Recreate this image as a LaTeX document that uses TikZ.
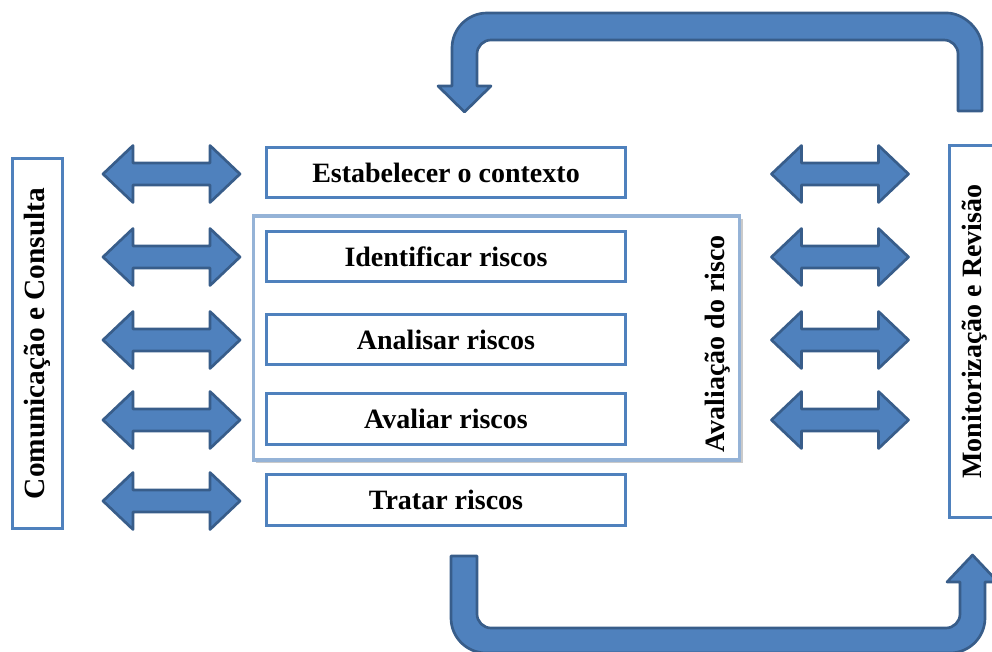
\documentclass[tikz,border=0pt]{standalone}
\usepackage{fontspec}
\setmainfont{Liberation Serif}
\usetikzlibrary{shadows}
\definecolor{boxblue}{HTML}{4F81BD}
\definecolor{arrline}{HTML}{385D8A}
\definecolor{lightblue}{HTML}{95B3D7}
\tikzset{
  stagebox/.style={draw=boxblue, line width=2.2pt, fill=white, minimum width=269pt, minimum height=38pt, inner sep=0pt, font=\fontsize{21}{25}\selectfont\bfseries},
  sidebox/.style={draw=boxblue, line width=2.2pt, fill=white, minimum width=37pt, minimum height=278pt, inner sep=0pt},
  sidetext/.style={rotate=90, font=\fontsize{21}{25}\selectfont\bfseries, inner sep=0pt},
  groupbox/.style={draw=lightblue, line width=2.4pt, fill=white, minimum width=365pt, minimum height=183pt, inner sep=0pt,
     drop shadow={shadow xshift=2pt, shadow yshift=-2pt, opacity=0.35, fill=black!60}},
  bigarrow/.style={fill=boxblue, draw=arrline, line width=2pt, line join=round},
  pics/dblarr/.style={code={
    \draw[bigarrow] (-68.5,0) -- (-38.5,-28.5) -- (-38.5,-11) -- (38.5,-11) -- (38.5,-28.5)
       -- (68.5,0) -- (38.5,28.5) -- (38.5,11) -- (-38.5,11) -- (-38.5,28.5) -- cycle;}}
}
\begin{document}
\begin{tikzpicture}[x=0.75pt, y=-0.75pt]
\useasboundingbox (0,0) rectangle (992,652);

% group box
\node[groupbox] (grp) at (496.5,338) {};
\node[sidetext] (grplabel) at (718,344) {Avaliação do risco};

% stage boxes
\node[stagebox] (ctx) at (446,172.5) {Estabelecer o contexto};
\node[stagebox] (ident) at (446,256.5) {Identificar riscos};
\node[stagebox] (anal) at (446,339.5) {Analisar riscos};
\node[stagebox] (aval) at (446,419) {Avaliar riscos};
\node[stagebox] (trat) at (446,500) {Tratar riscos};

% side boxes
\node[sidebox] (com) at (37.5,343.5) {};
\node[sidetext, font=\fontsize{22}{26}\selectfont\bfseries] (comlabel) at (37.5,343.5) {Comunicação e Consulta};
\node[sidebox, minimum height=279pt] (mon) at (974.5,331.5) {};
\node[sidetext] (monlabel) at (974.5,331.5) {Monitorização e Revisão};

% double arrows left
\foreach \yy in {174,257,340,420,501} \pic at (171.5,\yy) {dblarr};
% double arrows right
\foreach \yy in {174,257,340,420} \pic at (840,\yy) {dblarr};

% top U arrow
\draw[bigarrow] (982,111) -- (982,48) .. controls (982,28.7) and (962.7,13) .. (947,13)
  -- (487,13) .. controls (467.7,13) and (452,28.7) .. (452,48)
  -- (452,86) -- (438,86) -- (464.5,112) -- (491,86) -- (477,86)
  -- (477,54) .. controls (477,46.3) and (483.3,40) .. (491,40)
  -- (944,40) .. controls (951.7,40) and (958,46.3) .. (958,54)
  -- (958,111) -- cycle;

% bottom U arrow
\draw[bigarrow] (451,556) -- (451,618) .. controls (451,637.3) and (466.7,653) .. (486,653)
  -- (950,653) .. controls (969.3,653) and (985,637.3) .. (985,618)
  -- (985,582) -- (998,582) -- (972.5,555) -- (947,582) -- (960,582)
  -- (960,614) .. controls (960,621.7) and (953.7,628) .. (946,628)
  -- (491,628) .. controls (483.3,628) and (477,621.7) .. (477,614)
  -- (477,556) -- cycle;
\end{tikzpicture}
\end{document}
